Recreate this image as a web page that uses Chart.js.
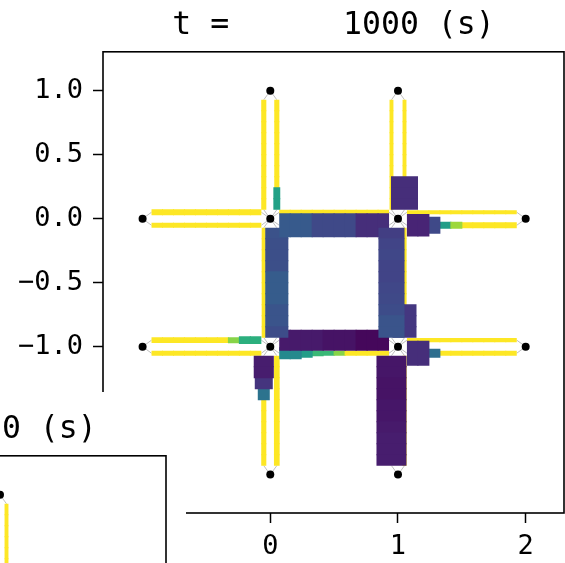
<!DOCTYPE html>
<html>
<head>
<meta charset="utf-8">
<script src="https://cdn.jsdelivr.net/npm/chart.js@4.4.0/dist/chart.umd.min.js"></script>
<style>
  html, body { margin: 0; padding: 0; background: #fff; overflow: hidden; }
  #wrap { position: relative; width: 565px; height: 563px; overflow: hidden; }
  #main { position: absolute; left: 0; top: 0; }
  #insetBox { position: absolute; left: 0; top: 392px; width: 186px; height: 171px; background: #fff; overflow: hidden; }
  #inset { position: absolute; left: -398px; top: 12px; }
</style>
</head>
<body>
<div id="wrap">
  <canvas id="main" width="565" height="563"></canvas>
  <div id="insetBox"><canvas id="inset" width="565" height="563"></canvas></div>
</div>
<script>
// junctions
var nodeX = [0, 1, -1, 0, 1, 2, -1, 0, 1, 2, 0, 1];
var nodeY = [1, 1, 0, 0, 0, 0, -1, -1, -1, -1, -2, -2];

// links (from -> to)
var linkFrom = [0, 1, 2, 3, 4, 6, 7, 8, 3, 4, 7, 8];
var linkTo   = [3, 4, 3, 4, 5, 7, 8, 9, 7, 8, 10, 11];
// A-D, B-E, C-D, D-E, E-F, G-H, H-I, I-J, D-H, E-I, H-K, I-L

// cell speed (0 = jammed, 1 = free flow), side A = left of travel direction
var speedA = [
  [1, 1, 1, 1, 1, 1, 1, 1, 0.57, 0.57],
  [1, 1, 1, 1, 1, 1, 1, 0.13, 0.13, 0.13],
  [1, 1, 1, 1, 1, 1, 1, 1, 1, 1],
  [1, 1, 1, 1, 1, 1, 1, 1, 1, 1],
  [1, 1, 1, 1, 1, 1, 1, 1, 1, 1],
  [1, 1, 1, 1, 1, 1, 1, 0.82, 0.63, 0.63],
  [0.07, 0.07, 0.07, 0.07, 0.05, 0.05, 0.05, 0.02, 0.02, 0.02],
  [1, 1, 1, 1, 1, 1, 1, 1, 1, 1],
  [0.25, 0.24, 0.24, 0.24, 0.29, 0.29, 0.29, 0.26, 0.26, 0.23],
  [1, 1, 1, 1, 1, 1, 1, 0.16, 0.16, 0.16],
  [1, 1, 1, 1, 1, 1, 1, 1, 1, 1],
  [1, 1, 1, 1, 1, 1, 1, 1, 1, 1]
];
var speedB = [
  [1, 1, 1, 1, 1, 1, 1, 1, 1, 1],
  [1, 1, 1, 1, 1, 1, 1, 1, 1, 1],
  [1, 1, 1, 1, 1, 1, 1, 1, 1, 1],
  [0.28, 0.28, 0.28, 0.22, 0.22, 0.22, 0.22, 0.13, 0.13, 0.13],
  [0.1, 0.1, 0.22, 0.55, 0.85, 1, 1, 1, 1, 1],
  [1, 1, 1, 1, 1, 1, 1, 1, 1, 1],
  [0.47, 0.47, 0.55, 0.67, 0.67, 0.82, 1, 1, 1, 1],
  [0.13, 0.13, 0.36, 1, 1, 1, 1, 1, 1, 1],
  [1, 1, 1, 1, 1, 1, 1, 1, 1, 1],
  [0.18, 0.2, 0.21, 0.2, 0.2, 0.21, 0.22, 0.23, 0.26, 0.26],
  [0.08, 0.08, 0.15, 0.38, 1, 1, 1, 1, 1, 1],
  [0.06, 0.06, 0.05, 0.05, 0.06, 0.06, 0.07, 0.08, 0.08, 0.08]
];

// cell density (0..1)
var densA = [
  [0.17, 0.17, 0.17, 0.17, 0.17, 0.17, 0.17, 0.17, 0.23, 0.23],
  [0.13, 0.13, 0.13, 0.13, 0.13, 0.13, 0.13, 0.9, 0.9, 0.9],
  [0.2, 0.2, 0.2, 0.2, 0.2, 0.2, 0.2, 0.2, 0.2, 0.2],
  [0.17, 0.17, 0.17, 0.17, 0.17, 0.17, 0.17, 0.17, 0.17, 0.17],
  [0.14, 0.14, 0.14, 0.14, 0.14, 0.14, 0.14, 0.14, 0.14, 0.14],
  [0.19, 0.19, 0.19, 0.19, 0.19, 0.19, 0.19, 0.2, 0.26, 0.26],
  [0.7, 0.7, 0.7, 0.7, 0.7, 0.7, 0.7, 0.7, 0.7, 0.7],
  [0.14, 0.14, 0.14, 0.14, 0.14, 0.14, 0.14, 0.14, 0.14, 0.14],
  [0.77, 0.77, 0.77, 0.77, 0.77, 0.77, 0.77, 0.77, 0.77, 0.77],
  [0.14, 0.14, 0.14, 0.14, 0.14, 0.14, 0.14, 0.8, 0.8, 0.8],
  [0.19, 0.19, 0.19, 0.19, 0.19, 0.19, 0.19, 0.19, 0.19, 0.19],
  [0.14, 0.14, 0.14, 0.14, 0.14, 0.14, 0.14, 0.14, 0.14, 0.14]
];
var densB = [
  [0.17, 0.17, 0.17, 0.17, 0.17, 0.17, 0.17, 0.17, 0.17, 0.17],
  [0.13, 0.13, 0.13, 0.13, 0.13, 0.13, 0.13, 0.13, 0.13, 0.13],
  [0.17, 0.17, 0.17, 0.17, 0.17, 0.17, 0.17, 0.17, 0.17, 0.17],
  [0.8, 0.8, 0.8, 0.8, 0.8, 0.8, 0.8, 0.8, 0.8, 0.8],
  [0.75, 0.75, 0.57, 0.23, 0.23, 0.2, 0.2, 0.2, 0.2, 0.2],
  [0.17, 0.17, 0.17, 0.17, 0.17, 0.17, 0.17, 0.17, 0.17, 0.17],
  [0.4, 0.4, 0.3, 0.2, 0.17, 0.17, 0.17, 0.17, 0.17, 0.17],
  [0.83, 0.83, 0.3, 0.17, 0.17, 0.17, 0.17, 0.17, 0.17, 0.17],
  [0.14, 0.14, 0.14, 0.14, 0.14, 0.14, 0.14, 0.14, 0.14, 0.14],
  [0.87, 0.87, 0.87, 0.87, 0.87, 0.87, 0.87, 0.87, 0.87, 0.87],
  [0.67, 0.67, 0.6, 0.4, 0.17, 0.17, 0.17, 0.17, 0.17, 0.17],
  [1, 1, 1, 1, 1, 1, 1, 1, 1, 1]
];

var xTickValues = [-1, 0, 1, 2];
var yTickValues = [-2, -1.5, -1, -0.5, 0, 0.5, 1];

var LANE_OFF = 0.051, END_GAP = 0.07, PX_PER_DENS = 30, SEAM = 0.004;
var FONT = "'DejaVu Sans Mono', monospace";

var VIRIDIS = ['#440154', '#482475', '#414487', '#355f8d', '#2a788e', '#21918c',
               '#22a884', '#44bf70', '#7ad151', '#bddf26', '#fde725'];
function hexRgb(h) { return [parseInt(h.substr(1, 2), 16), parseInt(h.substr(3, 2), 16), parseInt(h.substr(5, 2), 16)]; }
function viridis(t) {
  t = Math.max(0, Math.min(1, t)) * 10;
  var i = Math.min(9, Math.floor(t)), f = t - i;
  var a = hexRgb(VIRIDIS[i]), b = hexRgb(VIRIDIS[i + 1]);
  return 'rgb(' + a.map(function (v, j) { return Math.round(v + (b[j] - v) * f); }).join(',') + ')';
}

function laneParts(k, side, cells, links) {
  var a = linkFrom[k], b = linkTo[k];
  var x1 = nodeX[a], y1 = nodeY[a], x2 = nodeX[b], y2 = nodeY[b];
  var len = Math.hypot(x2 - x1, y2 - y1);
  var ux = (x2 - x1) / len, uy = (y2 - y1) / len;
  var nx = -uy * side, ny = ux * side;
  var sx = x1 + ux * END_GAP + nx * LANE_OFF, sy = y1 + uy * END_GAP + ny * LANE_OFF;
  var ex = x2 - ux * END_GAP + nx * LANE_OFF, ey = y2 - uy * END_GAP + ny * LANE_OFF;
  var sp = side > 0 ? speedA[k] : speedB[k];
  var dn = side > 0 ? densA[k] : densB[k];
  var n = sp.length;
  for (var i = 0; i < n; i++) {
    // small overlap so neighbouring cells do not show a seam
    var o0 = i > 0 ? SEAM : 0, o1 = i < n - 1 ? SEAM : 0;
    cells.push({
      data: [{ x: sx + (ex - sx) * i / n - ux * o0, y: sy + (ey - sy) * i / n - uy * o0 },
             { x: sx + (ex - sx) * (i + 1) / n + ux * o1, y: sy + (ey - sy) * (i + 1) / n + uy * o1 }],
      w: dn[i] * PX_PER_DENS, c: viridis(sp[i])
    });
  }
  links.push([{ x: x1, y: y1 }, { x: sx, y: sy }]);
  links.push([{ x: x2, y: y2 }, { x: ex, y: ey }]);
}

function buildDatasets() {
  var cells = [], links = [];
  for (var k = 0; k < linkFrom.length; k++) {
    laneParts(k, 1, cells, links);
    laneParts(k, -1, cells, links);
  }
  cells.sort(function (p, q) { return p.w - q.w; });
  var list = [];
  links.forEach(function (d) {
    list.push({ data: d, showLine: true, borderColor: 'rgba(120,120,120,0.6)', borderWidth: 0.8, pointRadius: 0 });
  });
  cells.forEach(function (c) {
    list.push({ data: c.data, showLine: true, borderColor: c.c, borderWidth: c.w, borderCapStyle: 'butt', pointRadius: 0 });
  });
  list.push({
    data: nodeX.map(function (x, i) { return { x: x, y: nodeY[i] }; }),
    pointRadius: 4, backgroundColor: '#000', borderWidth: 0
  });
  // first dataset is drawn on top in Chart.js
  return list.reverse();
}

function fmt(v, dec) {
  return v.toFixed(dec).replace('-', '\u2212');
}

var framePlugin = {
  id: 'frame',
  afterDatasetsDraw: function (chart) {
    var a = chart.chartArea, ctx = chart.ctx;
    ctx.save();
    ctx.strokeStyle = '#000';
    ctx.lineWidth = 1.6;
    ctx.strokeRect(a.left, a.top, a.right - a.left, a.bottom - a.top);
    ctx.restore();
  }
};

function makeChart(id, titleText) {
  return new Chart(document.getElementById(id), {
    type: 'scatter',
    data: { datasets: buildDatasets() },
    plugins: [framePlugin],
    options: {
      responsive: false,
      animation: false,
      events: [],
      layout: { autoPadding: false, padding: { left: 0, right: 1, top: 0, bottom: 0 } },
      plugins: {
        legend: { display: false },
        tooltip: { enabled: false },
        title: {
          display: true, text: titleText, fullSize: false, color: '#000',
          font: { family: FONT, size: 31.5, weight: 'normal', lineHeight: 1.2 },
          padding: { top: 7, bottom: 7 }
        }
      },
      scales: {
        x: {
          type: 'linear', min: -1.31, max: 2.30,
          afterBuildTicks: function (s) { s.ticks = xTickValues.map(function (v) { return { value: v }; }); },
          afterFit: function (s) { s.height = 50; s.paddingLeft = 0; s.paddingRight = 0; },
          ticks: { color: '#000', font: { family: FONT, size: 27 }, padding: 8,
                   callback: function (v) { return fmt(v, 0); } },
          grid: { drawOnChartArea: false, tickLength: 10, tickWidth: 1.5, tickColor: '#000' },
          border: { display: false }
        },
        y: {
          type: 'linear', min: -2.30, max: 1.305,
          afterBuildTicks: function (s) { s.ticks = yTickValues.map(function (v) { return { value: v }; }); },
          afterFit: function (s) { s.width = 103; s.paddingTop = 0; s.paddingBottom = 0; },
          ticks: { color: '#000', font: { family: FONT, size: 27 }, padding: 10,
                   callback: function (v) { return fmt(v, 1); } },
          grid: { drawOnChartArea: false, tickLength: 10, tickWidth: 1.5, tickColor: '#000' },
          border: { display: false }
        }
      }
    }
  });
}

makeChart('main', 't =      1000 (s)');
makeChart('inset', 't =         0 (s)');
</script>
</body>
</html>
